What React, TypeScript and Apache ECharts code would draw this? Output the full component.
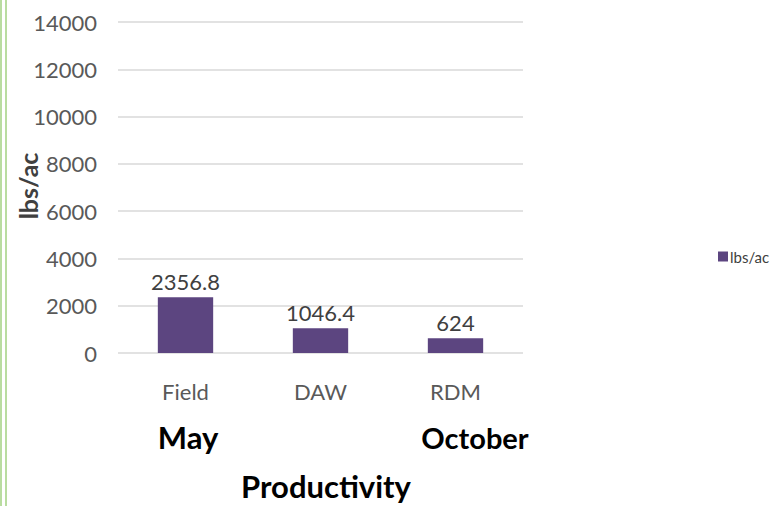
import React, { useEffect, useRef } from "react";
import * as echarts from "echarts";

const categories = ["Field", "DAW", "RDM"];
const values = [2356.8, 1046.4, 624];
const seriesName = "lbs/ac";
const yTicks = [0, 2000, 4000, 6000, 8000, 10000, 12000, 14000];
const groupLabels = ["May", "October"];
const xTitle = "Productivity";
const yTitle = "lbs/ac";

export default function App() {
  const ref = useRef<HTMLDivElement>(null);
  useEffect(() => {
    if (!ref.current) return;
    const chart = echarts.init(ref.current, undefined, { renderer: "svg" });
    const font = "Lato, 'Open Sans', sans-serif";
    chart.setOption({
      animation: false,
      backgroundColor: "#ffffff",
      textStyle: { fontFamily: font },
      grid: { left: 118, right: 248, top: 22, bottom: 153, containLabel: false },
      legend: {
        show: true,
        data: [seriesName],
        left: 718,
        top: 249,
        itemWidth: 10,
        itemHeight: 10,
        itemGap: 2,
        textStyle: { fontSize: 15, color: "#404040", fontFamily: font, padding: [0, 0, 0, -3] },
        icon: "rect",
        padding: 0,
      },
      xAxis: {
        type: "category",
        data: categories,
        axisLine: { show: false },
        axisTick: { show: false },
        axisLabel: { fontSize: 22, color: "#595959", margin: 27, fontFamily: font },
      },
      yAxis: {
        type: "value",
        min: yTicks[0],
        max: yTicks[yTicks.length - 1],
        interval: 2000,
        axisLine: { show: false },
        axisTick: { show: false },
        axisLabel: {
          fontSize: 22,
          color: "#595959",
          margin: 21,
          fontFamily: font,
          formatter: (v: number) => String(v),
        },
        splitLine: { lineStyle: { color: "#d9d9d9", width: 1.5 } },
      },
      series: [
        {
          name: seriesName,
          type: "bar",
          data: values,
          barWidth: "41%",
          itemStyle: { color: "#5c4580" },
          label: {
            show: true,
            position: "top",
            distance: 5,
            fontSize: 22,
            color: "#404040",
            fontFamily: font,
          },
        },
      ],
      graphic: [
        { type: "rect", shape: { x: 0, y: 0, width: 2, height: 506 }, style: { fill: "#b9dca0" } },
        { type: "rect", shape: { x: 5, y: 0, width: 2, height: 506 }, style: { fill: "#b9dca0" } },
        {
          type: "text",
          x: 28,
          y: 186,
          rotation: Math.PI / 2,
          style: {
            text: yTitle,
            fontSize: 25,
            fontWeight: "bold",
            fill: "#404040",
            fontFamily: font,
            align: "center",
            verticalAlign: "middle",
          },
        },
        {
          type: "text",
          x: 188,
          y: 437,
          style: {
            text: groupLabels[0],
            fontSize: 31,
            fontWeight: "bold",
            fill: "#000000",
            fontFamily: font,
            align: "center",
            verticalAlign: "middle",
          },
        },
        {
          type: "text",
          x: 475,
          y: 437,
          style: {
            text: groupLabels[1],
            fontSize: 29,
            fontWeight: "bold",
            fill: "#000000",
            fontFamily: font,
            align: "center",
            verticalAlign: "middle",
          },
        },
        {
          type: "text",
          x: 326,
          y: 486,
          style: {
            text: xTitle,
            fontSize: 31,
            fontWeight: "bold",
            fill: "#000000",
            fontFamily: font,
            align: "center",
            verticalAlign: "middle",
          },
        },
      ],
    });
    return () => chart.dispose();
  }, []);
  return (
    <div
      ref={ref}
      style={{ position: "fixed", left: 0, top: 0, width: 771, height: 506 }}
    />
  );
}
